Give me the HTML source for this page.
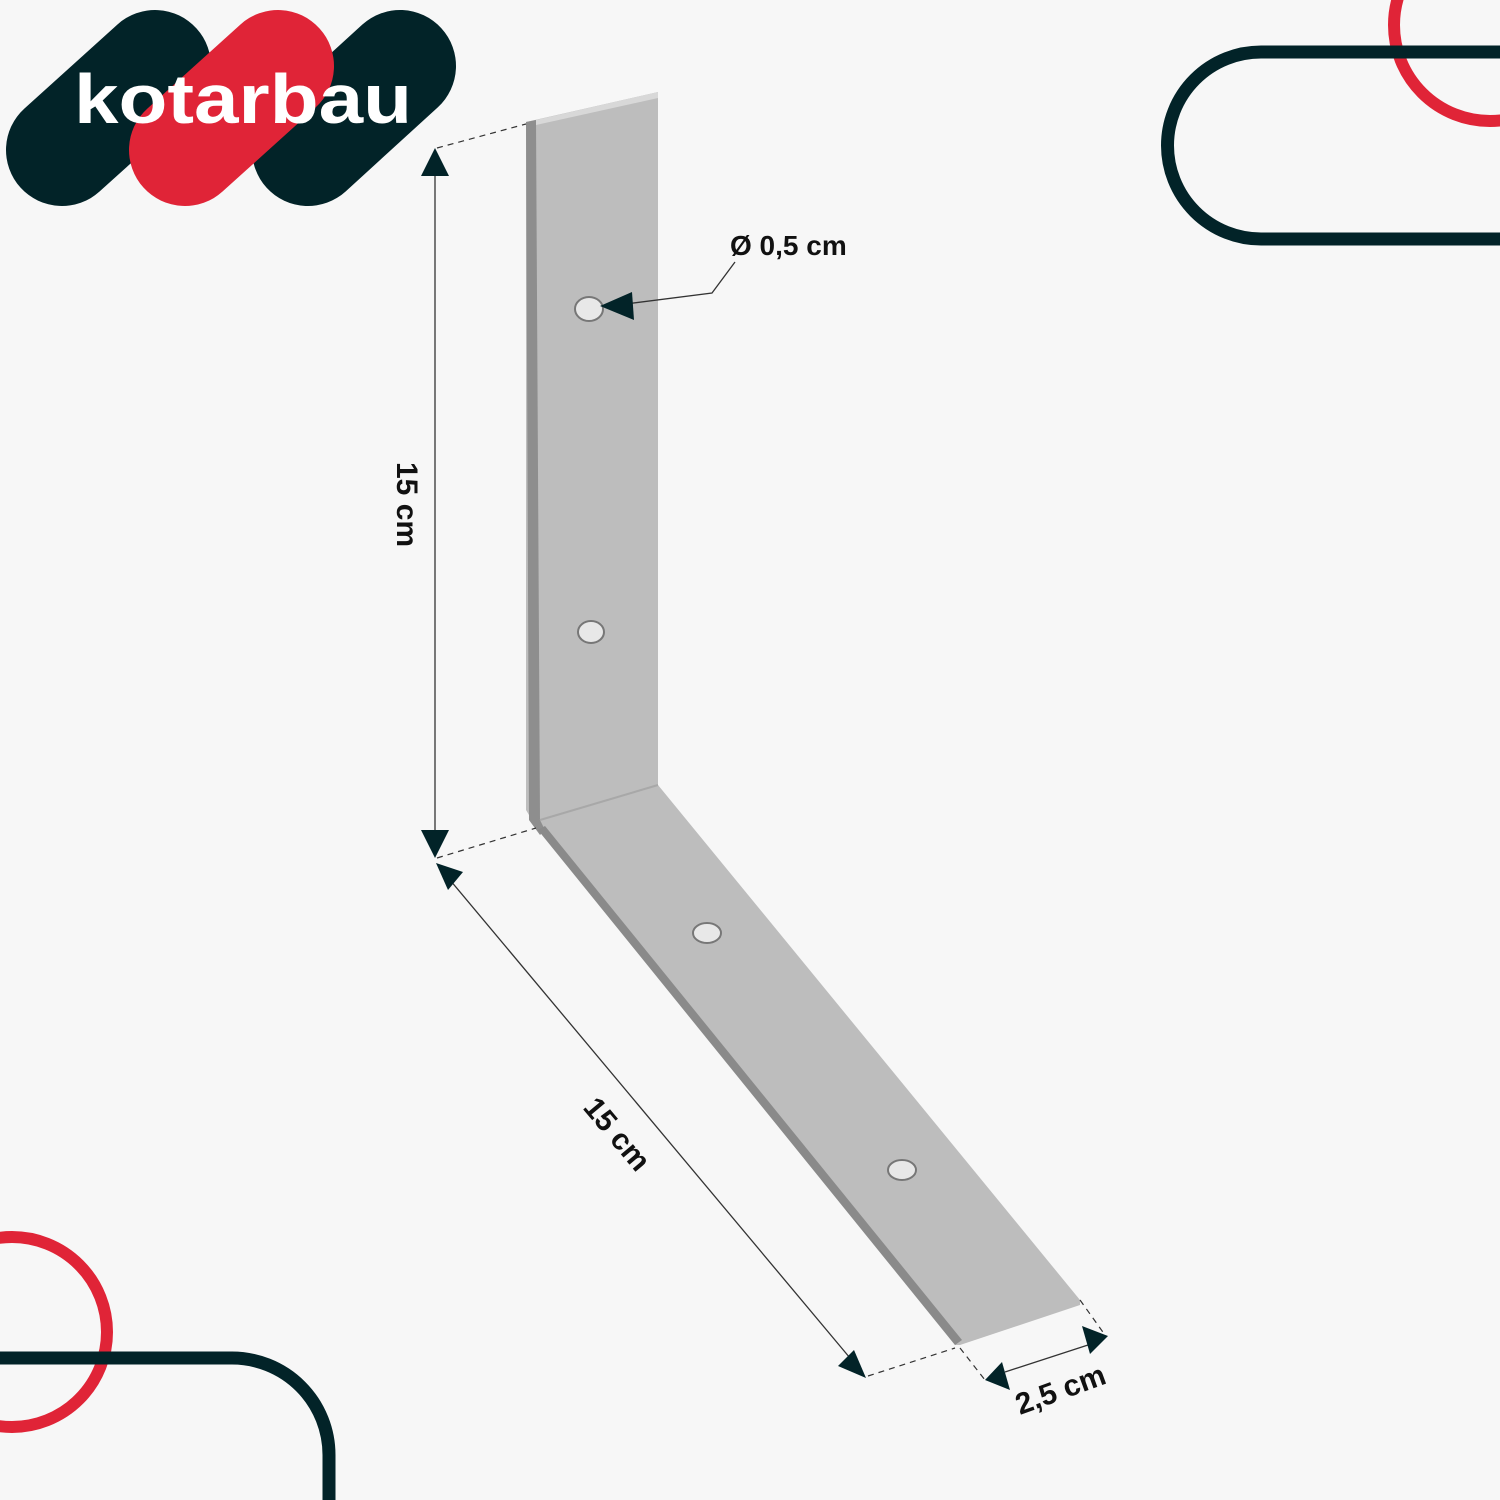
<!DOCTYPE html>
<html><head><meta charset="utf-8"><style>
html,body{margin:0;padding:0;background:#f7f7f7;width:1500px;height:1500px;overflow:hidden}
svg{display:block}
text{font-family:"Liberation Sans",sans-serif;font-weight:bold;fill:#111}
</style></head><body>
<svg width="1500" height="1500" viewBox="0 0 1500 1500" xmlns="http://www.w3.org/2000/svg">
<rect width="1500" height="1500" fill="#f7f7f7"/>
<g stroke-linecap="round" stroke-width="112">
<line x1="62" y1="150" x2="155" y2="66" stroke="#022328"/>
<line x1="308" y1="150" x2="400" y2="66" stroke="#022328"/>
<line x1="185" y1="150" x2="278" y2="66" stroke="#e02437"/>
</g>
<text x="74" y="123" font-size="70" style="fill:#fff" textLength="338" lengthAdjust="spacingAndGlyphs">kotarbau</text>
<circle cx="1490" cy="25" r="96" fill="none" stroke="#e02437" stroke-width="12"/>
<path d="M1600 52 H1261 A93.5 93.5 0 0 0 1261 239 H1600" fill="none" stroke="#022328" stroke-width="13"/>
<circle cx="12" cy="1332" r="95" fill="none" stroke="#e02437" stroke-width="12"/>
<path d="M-100 1358 H232 A97 97 0 0 1 329 1455 V1600" fill="none" stroke="#022328" stroke-width="13"/>
<polygon points="526,122 658,92 658,785 1080,1300 1080,1305 960,1345 955,1345 538,830 526,810" fill="#bdbdbd"/>
<polygon points="526,122 536,120 540,820 545,830 540,835 529,820" fill="#8e8e8e"/>
<polygon points="538,830 545,826 962,1340 955,1345" fill="#8a8a8a"/>
<polygon points="536,120 658,92 658,98 536,125" fill="#d8d8d8"/>
<line x1="540" y1="820" x2="658" y2="785" stroke="#a8a8a8" stroke-width="2"/>
<g fill="#e8e8e8" stroke="#777" stroke-width="2">
<ellipse cx="589" cy="309" rx="14" ry="12"/>
<ellipse cx="591" cy="632" rx="13" ry="11"/>
<ellipse cx="707" cy="933" rx="14" ry="10"/>
<ellipse cx="902" cy="1170" rx="14" ry="10"/>
</g>
<g stroke="#333" stroke-width="1.3" fill="none">
<line x1="435" y1="170" x2="435" y2="835"/>
<line x1="450" y1="880" x2="850" y2="1358"/>
<line x1="1005" y1="1372" x2="1088" y2="1345"/>
<path d="M610 306 L712 293 L735 262"/>
</g>
<g stroke="#333" stroke-width="1.2" stroke-dasharray="6,5" fill="none">
<line x1="437" y1="148" x2="526" y2="124"/>
<line x1="437" y1="858" x2="536" y2="828"/>
<line x1="868" y1="1376" x2="955" y2="1348"/>
<line x1="960" y1="1348" x2="985" y2="1380"/>
<line x1="1080" y1="1300" x2="1105" y2="1335"/>
</g>
<g fill="#022328">
<polygon points="435,148 421,176 449,176"/>
<polygon points="435,858 421,830 449,830"/>
<polygon points="436,863 448,890 463,872"/>
<polygon points="866,1378 854,1350 838,1366"/>
<polygon points="985,1380 1010,1390 1002,1362"/>
<polygon points="1108,1336 1082,1326 1090,1354"/>
<polygon points="600,306 632,292 634,320"/>
</g>
<text x="730" y="255" font-size="28">Ø 0,5 cm</text>
<text font-size="30" transform="translate(397,462) rotate(90)">15 cm</text>
<text font-size="30" transform="translate(582,1108) rotate(50)">15 cm</text>
<text font-size="30" transform="translate(1020,1415) rotate(-20)">2,5 cm</text>
</svg>
</body></html>
